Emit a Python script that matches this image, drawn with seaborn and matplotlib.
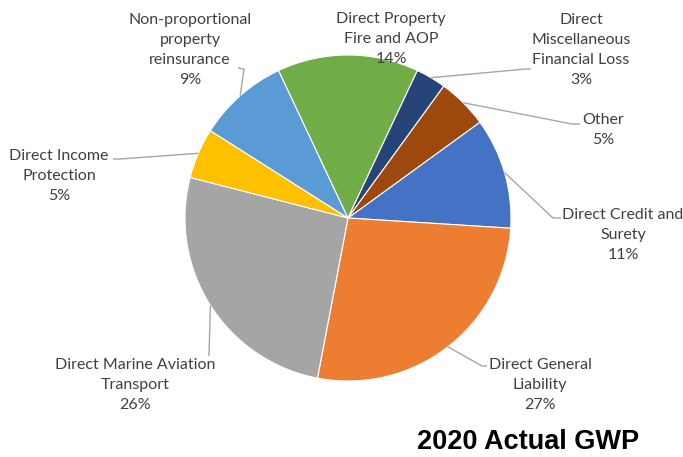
import numpy as np
import matplotlib
matplotlib.use("Agg")
import matplotlib.pyplot as plt
import seaborn as sns

# Gross written premium share by line of business, 2020
categories = [
    "Direct Credit and\nSurety",
    "Direct General\nLiability",
    "Direct Marine Aviation\nTransport",
    "Direct Income\nProtection",
    "Non-proportional\nproperty\nreinsurance",
    "Direct Property\nFire and AOP",
    "Direct\nMiscellaneous\nFinancial Loss",
    "Other",
]
shares = [11, 27, 26, 5, 9, 14, 3, 5]
colors = ["#4472C4", "#ED7D31", "#A5A5A5", "#FFC000",
          "#5B9BD5", "#70AD47", "#264478", "#9E480E"]
title = "2020 Actual GWP"

sns.set_theme(style="white")
plt.rcParams["font.family"] = ["Lato", "DejaVu Sans"]

W, H = 683, 457
fig = plt.figure(figsize=(W / 100, H / 100), dpi=100)
ax = fig.add_axes([0, 0, 1, 1])

cx, cy, r = 348, H - 218, 163
wedges, _ = ax.pie(
    shares, colors=sns.color_palette(colors), startangle=36, counterclock=False,
    center=(cx, cy), radius=r, frame=True,
    wedgeprops=dict(edgecolor="white", linewidth=0.8),
)
ax.set_xlim(0, W)
ax.set_ylim(0, H)
ax.set_aspect("equal")
ax.axis("off")

# label placement: (text centre x, text centre y from top, leader path from top or None)
layout = [
    (623, 235, [(553, 218), (561, 218)]),
    (540, 385, [(482, 366), (487, 366)]),
    (135, 385, [(209, 356)]),
    (59, 176, [(120, 159), (113, 159)]),
    (190, 50, [(244, 69), (238, 68)]),
    (391, 39, None),
    (581, 50, [(526, 69), (531, 69)]),
    (603, 130, [(572, 124), (580, 124)]),
]

text_color = "#404040"
for w, cat, val, (tx, ty, path) in zip(wedges, categories, shares, layout):
    ax.text(tx, H - ty, f"{cat}\n{val}%", ha="center", va="center",
            fontsize=11.5, color=text_color, linespacing=1.52)
    if path:
        mid = np.deg2rad((w.theta1 + w.theta2) / 2)
        start = (cx + r * np.cos(mid), cy + r * np.sin(mid))
        xs = [start[0]] + [p[0] for p in path]
        ys = [start[1]] + [H - p[1] for p in path]
        ax.plot(xs, ys, color="#A6A6A6", linewidth=1.0, solid_capstyle="butt")

ax.text(528, H - 442, title, ha="center", va="center", fontsize=19.5,
        fontweight="bold", color="black", family=["Liberation Sans", "DejaVu Sans"])

fig.savefig("out.png", dpi=100)
